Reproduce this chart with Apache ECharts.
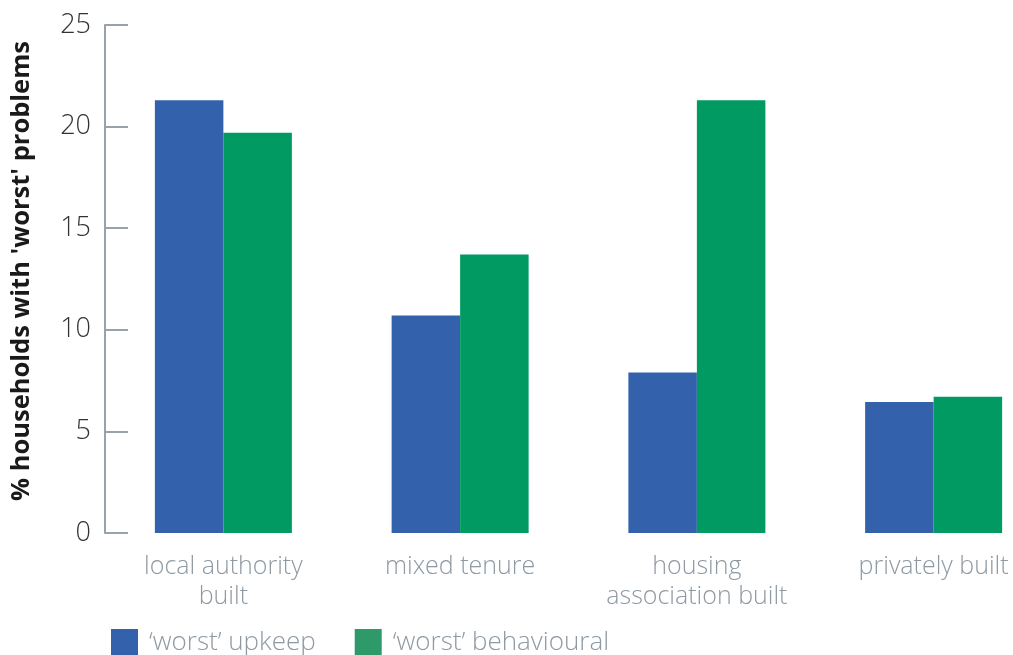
<!DOCTYPE html>
<html>
<head>
<meta charset="utf-8">
<script src="https://cdn.jsdelivr.net/npm/echarts@6/dist/echarts.min.js"></script>
<style>
html,body{margin:0;padding:0;background:#fff;}
#chart{width:1013px;height:655px;}
</style>
</head>
<body>
<div id="chart"></div>
<script>
var categories = ['local authority\nbuilt', 'mixed tenure', 'housing\nassociation built', 'privately built'];
var upkeep = [21.3, 10.7, 7.9, 6.45];
var behavioural = [19.7, 13.7, 21.3, 6.7];
var seriesNames = ['\u2018worst\u2019 upkeep', '\u2018worst\u2019 behavioural'];
var yTicks = [0, 5, 10, 15, 20, 25];
var yTitle = "% households with 'worst' problems";

var chart = echarts.init(document.getElementById('chart'));
var labelGray = '#8e99a2';
var fontFam = '"Open Sans", "Noto Sans", sans-serif';
chart.setOption({
  animation: false,
  grid: {left: 105, top: 25, width: 947, height: 508, outerBoundsMode: 'none', containLabel: false},
  legend: {
    left: 106, top: 624,
    itemWidth: 27, itemHeight: 27, itemGap: 39,
    icon: 'rect',
    textStyle: {fontSize: 26, color: labelGray, fontFamily: fontFam, fontWeight: 300, padding: [0,0,0,6]},
    data: [
      {name: seriesNames[0], itemStyle: {color: '#3461ac'}},
      {name: seriesNames[1], itemStyle: {color: '#2e9a69'}}
    ]
  },
  xAxis: {
    type: 'category',
    data: categories,
    axisLine: {show: false},
    axisTick: {show: false},
    axisLabel: {fontSize: 25, lineHeight: 30, color: labelGray, fontFamily: fontFam, fontWeight: 300, margin: 19, interval: 0}
  },
  yAxis: {
    type: 'value',
    min: yTicks[0], max: yTicks[yTicks.length-1], interval: 5,
    axisLine: {show: true, lineStyle: {color: '#98a2aa', width: 2}},
    axisTick: {show: true, inside: true, length: 23, lineStyle: {color: '#98a2aa', width: 2}},
    splitLine: {show: false},
    axisLabel: {fontSize: 27, color: '#333', fontFamily: fontFam, fontWeight: 300, margin: 14},
    name: yTitle,
    nameLocation: 'middle',
    nameGap: 70,
    nameTextStyle: {fontSize: 25.5, fontWeight: 'bold', color: '#1a1a1a', fontFamily: fontFam, padding: [0, 0, 0, 16]}
  },
  series: [
    {name: seriesNames[0], type: 'bar', data: upkeep, barWidth: 68.5, barGap: '0%', itemStyle: {color: '#3461ac'}},
    {name: seriesNames[1], type: 'bar', data: behavioural, barWidth: 68.5, barGap: '0%', itemStyle: {color: '#009a62'}}
  ]
});
</script>
</body>
</html>
